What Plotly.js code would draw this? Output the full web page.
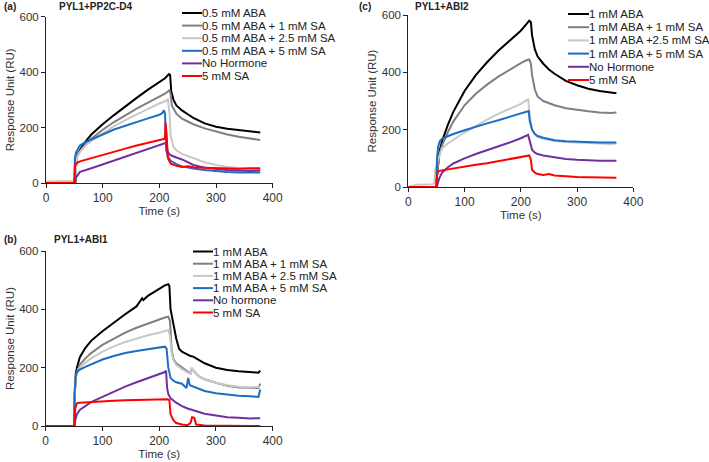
<!DOCTYPE html>
<html><head><meta charset="utf-8">
<script src="https://cdn.plot.ly/plotly-3.0.1.min.js"></script>
<style>html,body{margin:0;padding:0;background:#fff}#chart{width:709px;height:462px}</style>
</head><body><div id="chart"></div>
<script>
// ---------- Panel (a) PYL1+PP2C-D4 ----------
const aLabels = ['0.5 mM ABA','0.5 mM ABA + 1 mM SA','0.5 mM ABA + 2.5 mM SA','0.5 mM ABA + 5 mM SA','No Hormone','5 mM SA'];
const a_t_aba = [0,52,53,55,60,70,80,100,120,140,160,180,200,210,217,219,221,225,230,240,250,260,280,300,320,340,360,378];
const a_v_aba = [0,0,60,100,119,150,175,212,245,277,307,337,365,378,393,390,330,300,280,262,248,235,215,203,196,191,187,182];
const a_t_sa1 = [0,52,53,55,60,70,80,100,120,140,160,180,200,210,218,220,222,226,230,240,250,260,280,300,320,340,360,378];
const a_v_sa1 = [0,0,60,95,115,140,160,192,220,245,268,290,312,322,335,320,280,262,250,232,222,212,197,185,175,167,160,155];
const a_t_sa25 = [0,20,40,50,52,53,55,60,70,80,100,120,140,160,180,200,210,215,218,220,225,230,240,250,260,280,300,320,340,360,378];
const a_v_sa25 = [5,7,8,8,8,60,95,112,135,152,180,205,227,248,268,287,295,302,250,170,130,118,105,97,89,75,65,58,54,50,48];
const a_t_sa5 = [0,50,51,53,57,60,70,80,100,120,140,160,180,200,205,208,210,212,215,220,230,240,250,260,280,300,320,340,360,378];
const a_v_sa5 = [0,0,90,110,125,135,148,158,175,193,207,220,233,246,252,262,250,120,95,80,68,60,56,52,47,43,40,38,37,38];
const a_t_nh = [0,51,53,57,60,80,100,120,140,160,180,200,210,212,215,220,230,240,250,260,280,300,320,340,360,378];
const a_v_nh = [0,0,20,33,40,53,67,81,95,108,122,135,142,145,110,100,92,85,75,65,55,50,47,45,43,45];
const a_t_sa = [0,50,51,54,60,80,100,120,140,160,180,200,210,211,213,215,220,230,240,250,260,280,300,320,340,360,378];
const a_v_sa = [0,0,60,72,78,90,101,113,124,135,145,155,160,218,170,90,70,62,58,60,57,55,53,52,51,53,53];

// ---------- Panel (b) PYL1+ABI1 ----------
const bLabels = ['1 mM ABA','1 mM ABA + 1 mM SA','1 mM ABA + 2.5 mM SA','1 mM ABA + 5 mM SA','No hormone','5 mM SA'];
const b_t_aba = [0,50,51,53,55,60,70,80,100,120,140,160,165,170,172,180,190,200,210,216,218,220,225,230,235,240,250,255,260,270,280,300,320,340,360,375,378];
const b_v_aba = [0,0,100,180,200,235,268,292,325,355,383,410,423,438,432,446,458,470,482,486,480,400,350,300,265,255,245,240,238,225,215,200,192,188,185,183,190];
const b_t_sa1 = [0,50,51,53,55,60,70,80,100,120,140,160,180,200,210,216,219,222,225,230,240,250,255,257,260,270,280,300,320,340,360,375,378];
const b_v_sa1 = [0,0,100,170,185,210,232,250,278,300,320,337,352,365,372,375,360,260,230,215,200,185,180,195,190,170,160,148,138,132,130,130,145];
const b_t_sa25 = [0,50,51,53,55,60,70,80,100,120,140,160,180,200,210,216,219,222,225,230,240,250,255,258,262,270,280,300,320,340,360,378];
const b_v_sa25 = [0,0,100,165,180,200,218,232,255,273,288,300,311,320,325,329,310,250,225,210,195,183,178,200,185,170,160,148,140,135,132,135];
const b_t_sa5 = [0,50,51,53,55,60,70,80,100,120,140,160,180,200,210,213,216,220,225,230,240,248,251,254,260,270,280,300,320,340,360,375,378];
const b_v_sa5 = [0,0,120,170,185,193,203,212,228,240,250,257,263,268,272,265,200,165,155,150,145,130,165,140,135,128,120,112,107,104,102,100,125];
const b_t_nh = [0,51,52,55,60,70,80,100,120,140,160,180,200,210,212,214,216,220,230,240,250,260,270,280,300,320,340,360,378];
const b_v_nh = [0,0,20,40,55,70,82,100,118,135,150,165,178,185,190,130,110,95,80,68,60,55,48,42,35,30,28,26,27];
const b_t_sa = [0,51,52,55,60,80,100,120,140,160,180,200,215,218,220,225,230,240,250,255,258,262,265,280,300,320,340,360,378];
const b_v_sa = [0,0,60,78,80,83,85,87,88,89,90,91,92,88,40,20,10,5,3,10,30,28,5,2,1,0,0,0,0];

// ---------- Panel (c) PYL1+ABI2 ----------
const cLabels = ['1 mM ABA','1 mM ABA + 1 mM SA','1 mM ABA +2.5 mM SA','1 mM ABA + 5 mM SA','No Hormone','5 mM SA'];
const c_t_aba = [0,50,51,55,60,70,80,90,100,120,140,160,180,200,210,215,218,220,225,230,240,250,260,280,300,320,340,360,370];
const c_v_aba = [0,0,40,120,160,215,262,300,335,390,435,475,510,545,568,580,575,530,480,455,430,410,395,370,355,343,335,330,327];
const c_t_sa1 = [0,50,51,55,60,70,80,90,100,120,140,160,180,200,210,215,218,220,225,230,240,250,260,280,300,320,340,360,370];
const c_v_sa1 = [0,0,40,110,145,190,228,258,285,325,357,385,410,432,442,445,430,390,340,315,300,292,285,275,269,264,260,258,260];
const c_t_sa25 = [0,15,30,44,46,48,52,55,60,70,80,90,100,120,140,160,180,200,210,213,216,220,225,230,240,250,260,280,300,320,340,360,370];
const c_v_sa25 = [0,8,9,10,14,60,90,110,135,152,165,178,190,212,235,255,273,290,303,306,250,200,185,175,168,165,160,157,155,152,150,150,152];
const c_t_sa5 = [0,50,51,53,56,60,70,80,100,120,140,160,180,200,210,214,216,220,225,230,240,250,260,280,300,320,340,360,370];
const c_v_sa5 = [0,0,100,140,160,168,177,185,198,211,222,233,245,255,262,265,230,200,185,178,172,168,163,160,158,156,155,155,155];
const c_t_nh = [0,51,52,55,60,70,80,100,120,140,160,180,200,210,213,216,220,225,230,240,250,260,280,300,320,340,360,370];
const c_v_nh = [0,0,10,30,50,68,82,100,115,128,140,155,170,178,182,160,130,120,115,110,107,103,98,95,93,92,92,92];
const c_t_sa = [0,50,51,53,60,80,100,120,140,160,180,200,210,215,218,220,225,230,240,250,260,280,300,320,340,360,370];
const c_v_sa = [0,0,40,55,58,65,72,78,83,90,97,105,108,110,95,60,50,45,42,45,40,37,35,34,33,32,32];

const seriesColors = ['#000000','#7f7f7f','#c8c8c8','#1a6fc4','#7030a0','#ff0000'];
const xTicks = [0,100,200,300,400];
const yTicks = [0,200,400,600];

const W = 709, H = 462;
const FONT = 'Arial, "Liberation Sans", sans-serif';
const px = v => v / W, py = v => 1 - v / H;

const panels = [
  {id:'', labels:aLabels, t:[a_t_aba,a_t_sa1,a_t_sa25,a_t_sa5,a_t_nh,a_t_sa], v:[a_v_aba,a_v_sa1,a_v_sa25,a_v_sa5,a_v_nh,a_v_sa],
   xd:[46,272.7], yd:[183,16.7], tag:'(a)', title:'PYL1+PP2C-D4', tagPos:[2,6], titlePos:[57,6], leg:{x0:182,x1:202,y0:13,dy:12.6}},
  {id:'2', labels:bLabels, t:[b_t_aba,b_t_sa1,b_t_sa25,b_t_sa5,b_t_nh,b_t_sa], v:[b_v_aba,b_v_sa1,b_v_sa25,b_v_sa5,b_v_nh,b_v_sa],
   xd:[45.7,272.7], yd:[426,251], tag:'(b)', title:'PYL1+ABI1', tagPos:[2,240], titlePos:[52,240], leg:{x0:193,x1:213,y0:251.5,dy:12.2}},
  {id:'3', labels:cLabels, t:[c_t_aba,c_t_sa1,c_t_sa25,c_t_sa5,c_t_nh,c_t_sa], v:[c_v_aba,c_v_sa1,c_v_sa25,c_v_sa5,c_v_nh,c_v_sa],
   xd:[408.3,633.3], yd:[187,15], tag:'(c)', title:'PYL1+ABI2', tagPos:[357,6], titlePos:[413,6], leg:{x0:568,x1:589,y0:14,dy:13.2}}
];

const data = [];
const layout = {
  width:W, height:H, margin:{l:0,r:0,t:0,b:0}, showlegend:false,
  paper_bgcolor:'#fff', plot_bgcolor:'#fff', font:{family:FONT, size:11, color:'#222'},
  shapes:[], annotations:[]
};

panels.forEach(p => {
  const xa = 'xaxis' + p.id, ya = 'yaxis' + p.id;
  for (let i = 0; i < 6; i++) {
    data.push({type:'scatter', mode:'lines', x:p.t[i], y:p.v[i], name:p.labels[i],
      xaxis:'x'+p.id, yaxis:'y'+p.id, line:{color:seriesColors[i], width:2}, hoverinfo:'skip'});
  }
  layout[xa] = {domain:[px(p.xd[0]), px(p.xd[1])], anchor:'y'+p.id, range:[0,400], tickvals:xTicks,
    ticks:'outside', ticklen:4, tickcolor:'#222', showline:true, linecolor:'#222', linewidth:1,
    showgrid:false, zeroline:false, tickfont:{size:12, color:'#333'},
    title:{text:'Time (s)', font:{size:11.5, color:'#333'}, standoff:2}};
  layout[ya] = {domain:[py(p.yd[0]), py(p.yd[1])], anchor:'x'+p.id, range:[0,600], tickvals:yTicks,
    ticks:'outside', ticklen:4, tickcolor:'#222', showline:true, linecolor:'#222', linewidth:1,
    showgrid:false, zeroline:false, tickfont:{size:11.5, color:'#333'},
    title:{text:'Response Unit (RU)', font:{size:11.5, color:'#333'}, standoff:2}};
  layout.annotations.push({xref:'paper', yref:'paper', x:px(p.tagPos[0]), y:py(p.tagPos[1]), xanchor:'left', yanchor:'middle',
    text:'<b>'+p.tag+'</b>', showarrow:false, font:{size:10, color:'#222'}});
  layout.annotations.push({xref:'paper', yref:'paper', x:px(p.titlePos[0]), y:py(p.titlePos[1]), xanchor:'left', yanchor:'middle',
    text:'<b>'+p.title+'</b>', showarrow:false, font:{size:10, color:'#222'}});
  for (let i = 0; i < 6; i++) {
    const yy = py(p.leg.y0 + i * p.leg.dy);
    layout.shapes.push({type:'line', xref:'paper', yref:'paper', x0:px(p.leg.x0), x1:px(p.leg.x1), y0:yy, y1:yy,
      line:{color:seriesColors[i], width:2}});
    layout.annotations.push({xref:'paper', yref:'paper', x:px(p.leg.x1), y:yy, xanchor:'left', yanchor:'middle',
      text:p.labels[i], showarrow:false, font:{size:11.5, color:'#222'}, xshift:-2});
  }
});

Plotly.newPlot('chart', data, layout, {staticPlot:true, displayModeBar:false});
</script>
</body></html>
